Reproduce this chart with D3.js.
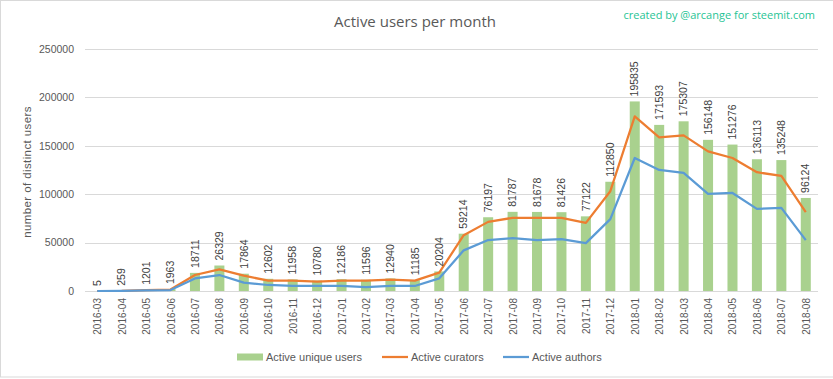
<!DOCTYPE html>
<html>
<head>
<meta charset="utf-8">
<script src="https://cdn.jsdelivr.net/npm/d3@7"></script>
<style>
  html, body { margin: 0; padding: 0; background: #fff; }
  svg { display: block; }
</style>
</head>
<body>
<svg id="chart" width="833" height="379"></svg>
<script>
const months = ["2016-03","2016-04","2016-05","2016-06","2016-07","2016-08","2016-09","2016-10","2016-11","2016-12",
  "2017-01","2017-02","2017-03","2017-04","2017-05","2017-06","2017-07","2017-08","2017-09","2017-10","2017-11","2017-12",
  "2018-01","2018-02","2018-03","2018-04","2018-05","2018-06","2018-07","2018-08"];
const uniqueUsers = [5,259,1201,1963,18711,26329,17864,12602,11958,10780,
  12186,11596,12940,11185,20204,59214,76197,81787,81678,81426,77122,112850,
  195835,171593,175307,156148,151276,136113,135248,96124];
const curators = [0,200,1000,1500,16500,22300,15800,10700,10700,9600,
  10700,10700,11700,10700,19000,57700,71400,75600,75600,75600,70400,103100,
  180400,158800,160800,144300,137400,122700,118900,81400];
const authors = [0,150,600,1000,13000,16500,8600,6200,5200,5200,
  5200,4100,5200,5200,13100,42000,52600,54600,52600,53600,49500,74200,
  137400,125100,122000,100300,101300,84800,85900,52600];
const yTicks = [0,50000,100000,150000,200000,250000];
const seriesNames = ["Active unique users","Active curators","Active authors"];
const colors = { bar: "#A9D18E", curators: "#ED7D31", authors: "#5B9BD5" };

const svg = d3.select("#chart");
const plot = { left: 85, right: 818, top: 49, bottom: 291 };
const textColor = "#595959";
const font = "'Liberation Sans', Arial, sans-serif";

// outer border
svg.append("rect").attr("x", 0.5).attr("y", 0.5).attr("width", 840).attr("height", 376.5)
  .attr("fill", "#fff").attr("stroke", "#d9d9d9");

const x = d3.scaleBand().domain(months).range([plot.left, plot.right]).paddingInner(0.59).paddingOuter(0.295);
const xc = d3.scalePoint().domain(months).range([plot.left, plot.right]).padding(0.5);
const y = d3.scaleLinear().domain([0, 250000]).range([plot.bottom, plot.top]);

// gridlines
svg.append("g").selectAll("line").data(yTicks).join("line")
  .attr("x1", plot.left).attr("x2", plot.right)
  .attr("y1", d => Math.round(y(d)) + 0.5).attr("y2", d => Math.round(y(d)) + 0.5)
  .attr("stroke", "#d9d9d9").attr("stroke-width", 1);

// y axis labels
const yAxis = d3.axisLeft(y).tickValues(yTicks).tickSize(0).tickPadding(0).tickFormat(d3.format("d"));
const gy = svg.append("g").attr("transform", `translate(74,0)`).call(yAxis);
gy.select(".domain").remove();
gy.selectAll("text").attr("fill", textColor).style("font-family", font).style("font-size", "10.5px");

// y axis title
svg.append("text").attr("transform", "translate(31,172) rotate(-90)")
  .attr("text-anchor", "middle").attr("fill", textColor)
  .style("font-family", font).style("font-size", "11.5px").style("letter-spacing", "0.4px")
  .text("number of distinct users");

// bars
svg.append("g").selectAll("rect").data(months).join("rect")
  .attr("x", d => x(d)).attr("width", x.bandwidth())
  .attr("y", (d, i) => y(uniqueUsers[i]))
  .attr("height", (d, i) => y(0) - y(uniqueUsers[i]))
  .attr("fill", colors.bar);

// lines
const line = d3.line().x((d, i) => xc(months[i])).y(d => y(d));
svg.append("path").datum(curators).attr("d", line).attr("fill", "none")
  .attr("stroke", colors.curators).attr("stroke-width", 2.25).attr("stroke-linejoin", "round");
svg.append("path").datum(authors).attr("d", line).attr("fill", "none")
  .attr("stroke", colors.authors).attr("stroke-width", 2.25).attr("stroke-linejoin", "round");

// data labels
svg.append("g").selectAll("text").data(months).join("text")
  .attr("transform", (d, i) => `translate(${xc(d)},${y(uniqueUsers[i]) - 5}) rotate(-90)`)
  .attr("dy", "0.35em").attr("text-anchor", "start")
  .attr("fill", "#404040").style("font-family", font).style("font-size", "10.5px")
  .text((d, i) => uniqueUsers[i]);

// x axis labels
const xAxis = d3.axisBottom(xc).tickSize(0).tickPadding(0);
const gx = svg.append("g").attr("transform", `translate(0,${plot.bottom})`).call(xAxis);
gx.select(".domain").remove();
gx.selectAll("text")
  .attr("transform", "translate(0,7) rotate(-90)")
  .attr("x", 0).attr("y", 0).attr("dy", "0.35em")
  .attr("text-anchor", "end").attr("fill", textColor)
  .style("font-family", font).style("font-size", "10px");

// title
svg.append("text").attr("x", 415).attr("y", 27).attr("text-anchor", "middle")
  .attr("fill", textColor).style("font-family", "'Open Sans', sans-serif").style("font-size", "15px")
  .text("Active users per month");
svg.append("text").attr("x", 815).attr("y", 19).attr("text-anchor", "end")
  .attr("fill", "#1fc495").style("font-family", "'Open Sans', sans-serif").style("font-size", "11px")
  .text("created by @arcange for steemit.com");

// legend
const lg = svg.append("g").style("font-family", font).style("font-size", "11px");
const items = [
  { name: seriesNames[0], type: "bar", color: colors.bar, x: 237 },
  { name: seriesNames[1], type: "line", color: colors.curators, x: 382 },
  { name: seriesNames[2], type: "line", color: colors.authors, x: 503 }
];
const ly = 357;
items.forEach(it => {
  if (it.type === "bar") {
    lg.append("rect").attr("x", it.x).attr("y", ly - 3.5).attr("width", 26).attr("height", 7).attr("fill", it.color);
  } else {
    lg.append("line").attr("x1", it.x).attr("x2", it.x + 26).attr("y1", ly).attr("y2", ly)
      .attr("stroke", it.color).attr("stroke-width", 2.25);
  }
  lg.append("text").attr("x", it.x + 29).attr("y", ly).attr("dy", "0.35em")
    .attr("fill", textColor).text(it.name);
});
</script>
</body>
</html>
